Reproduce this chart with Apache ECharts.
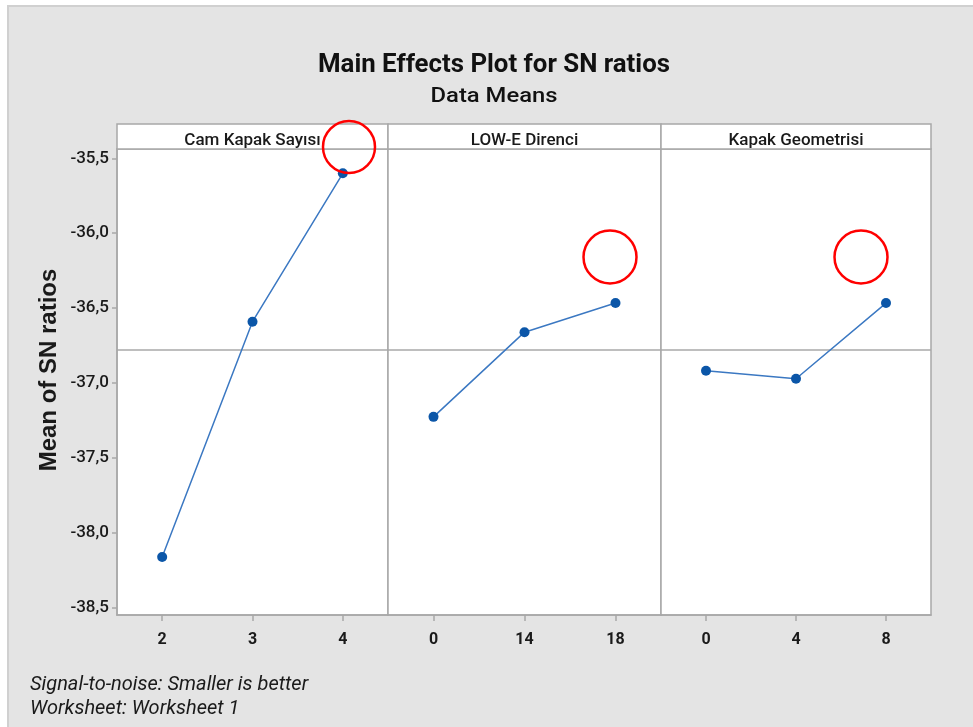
<!DOCTYPE html>
<html>
<head>
<meta charset="utf-8">
<script src="https://cdn.jsdelivr.net/npm/echarts@6/dist/echarts.min.js"></script>
<style>
  html, body { margin: 0; padding: 0; background: #ffffff; }
  #chart { width: 973px; height: 727px; }
</style>
</head>
<body>
<div id="chart"></div>
<script>
// Factor names and their levels
const factorNames = ['Cam Kapak Sayısı', 'LOW-E Direnci', 'Kapak Geometrisi'];
const camLevels = ['2', '3', '4'];
const lowELevels = ['0', '14', '18'];
const geoLevels = ['0', '4', '8'];

// Mean SN ratio at each level
const camMeans = [-38.16, -36.59, -35.60];
const lowEMeans = [-37.225, -36.66, -36.466];
const geoMeans = [-36.918, -36.971, -36.466];

// Y tick labels
const yTicks = [-38.5, -38.0, -37.5, -37.0, -36.5, -36.0, -35.5];

const levelSets = [camLevels, lowELevels, geoLevels];
const meanSets = [camMeans, lowEMeans, geoMeans];

const panelLeft = [117, 388, 661];
const panelWidth = [271, 273, 270];
const panelTop = 149;
const panelHeight = 466;
const headerTop = 124;

const yMin = -38.547, yMax = -35.438;
const frameColor = '#a8a8a8';
const textColor = '#1a1a1a';

// Horizontal squeeze/stretch factor so a string spans the wanted width
const measureCtx = document.createElement('canvas').getContext('2d');
function fitScale(text, font, wantWidth) {
  measureCtx.font = font;
  return wantWidth / measureCtx.measureText(text).width;
}

const chart = echarts.init(document.getElementById('chart'), null, { renderer: 'canvas' });

const grids = [], xAxes = [], yAxes = [], series = [];
for (let i = 0; i < 3; i++) {
  grids.push({
    left: panelLeft[i], top: panelTop, width: panelWidth[i], height: panelHeight,
    show: true, backgroundColor: '#ffffff', borderColor: frameColor, borderWidth: 1.5,
    containLabel: false
  });
  xAxes.push({
    type: 'category', gridIndex: i, data: levelSets[i], boundaryGap: true,
    axisLine: { show: true, lineStyle: { color: frameColor, width: 1.5 } },
    axisTick: { show: true, alignWithLabel: true, length: 6, lineStyle: { color: frameColor, width: 1.5 } },
    axisLabel: { margin: 17, fontFamily: 'Roboto', fontWeight: 'bold', fontSize: 16, color: textColor },
    splitLine: { show: false }
  });
  yAxes.push({
    type: 'value', gridIndex: i, min: yMin, max: yMax,
    axisLine: { show: i === 0, lineStyle: { color: frameColor, width: 1.5 } },
    axisTick: { show: i === 0, length: 5, customValues: yTicks, lineStyle: { color: frameColor, width: 1.5 } },
    axisLabel: {
      show: i === 0, customValues: yTicks, margin: 8,
      fontFamily: 'Roboto', fontWeight: 500, fontSize: 17, color: textColor,
      formatter: v => v.toFixed(1).replace('.', ',')
    },
    splitLine: { show: false }
  });
  series.push({
    type: 'line', xAxisIndex: i, yAxisIndex: i, data: meanSets[i],
    symbol: 'circle', symbolSize: 10,
    itemStyle: { color: '#0b56a8' },
    lineStyle: { color: '#3b78c2', width: 1.5 },
    z: 5,
    markLine: {
      silent: true, symbol: 'none', label: { show: false },
      lineStyle: { color: frameColor, type: 'solid', width: 1.5 },
      data: [{ type: 'average' }],
      z: 2
    }
  });
}

const graphics = [];
// Page panel
graphics.push({
  type: 'rect', z: -10,
  shape: { x: 8, y: 6, width: 980, height: 740 },
  style: { fill: '#e4e4e4', stroke: '#d0d0d0', lineWidth: 2 }
});
// Titles
const titleText = 'Main Effects Plot for SN ratios';
const titleFont = 'bold 26px Roboto';
graphics.push({
  type: 'text', z: 11, x: 494, y: 65,
  scaleX: fitScale(titleText, titleFont, 352),
  style: { text: titleText, font: titleFont, fill: '#111', align: 'center', verticalAlign: 'middle' }
});
const subText = 'Data Means';
const subFont = '500 20px Roboto';
graphics.push({
  type: 'text', z: 11, x: 494, y: 97,
  scaleX: fitScale(subText, subFont, 127),
  style: { text: subText, font: subFont, fill: '#111', align: 'center', verticalAlign: 'middle' }
});
// Y axis title
graphics.push({
  type: 'text', z: 11, x: 49, y: 370, rotation: Math.PI / 2,
  style: {
    text: 'Mean of SN ratios', font: 'bold 24px "Liberation Sans"',
    fill: textColor, align: 'center', verticalAlign: 'middle'
  }
});
// Panel header strips
for (let i = 0; i < 3; i++) {
  graphics.push({
    type: 'rect', z: 10,
    shape: { x: panelLeft[i], y: headerTop, width: panelWidth[i], height: panelTop - headerTop },
    style: { fill: '#ffffff', stroke: frameColor, lineWidth: 1.5 }
  });
  graphics.push({
    type: 'text', z: 11,
    x: panelLeft[i] + panelWidth[i] / 2, y: 141,
    style: {
      text: factorNames[i], font: '500 17px Roboto',
      fill: textColor, align: 'center', verticalAlign: 'middle'
    }
  });
}
// Highlight rings
[[349, 147, 26], [610, 257, 26.5], [861, 257, 26.5]].forEach(c => {
  graphics.push({
    type: 'circle', z: 20,
    shape: { cx: c[0], cy: c[1], r: c[2] },
    style: { fill: 'none', stroke: '#ff0000', lineWidth: 2.5 }
  });
});
// Footnote
graphics.push({
  type: 'text', z: 11, x: 30, y: 673,
  style: {
    text: 'Signal-to-noise: Smaller is better\nWorksheet: Worksheet 1',
    font: 'italic 20px Roboto', lineHeight: 24, fill: textColor
  }
});

chart.setOption({
  backgroundColor: '#ffffff',
  animation: false,
  grid: grids,
  xAxis: xAxes,
  yAxis: yAxes,
  series: series,
  graphic: graphics
});
</script>
</body>
</html>
